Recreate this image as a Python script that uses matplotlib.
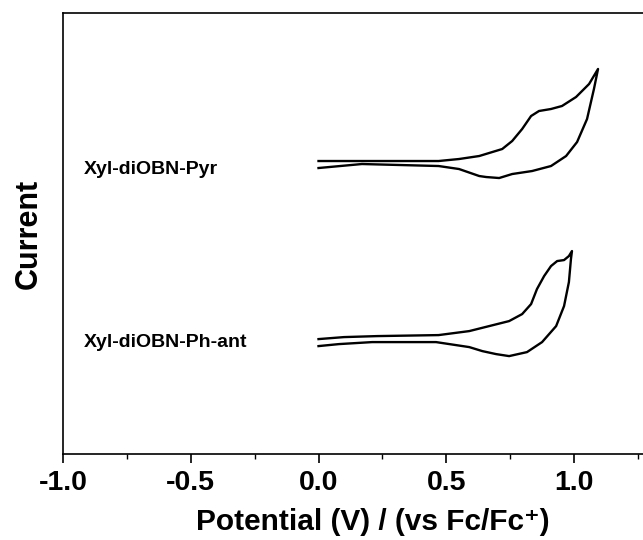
import numpy as np
import matplotlib
matplotlib.use("Agg")
import matplotlib.pyplot as plt
from matplotlib.ticker import MultipleLocator

plt.rcParams['font.family'] = ['Liberation Sans', 'DejaVu Sans']
plt.rcParams['font.weight'] = 'bold'

# CV traces (potential in V vs Fc/Fc+, current in arbitrary units)
pyr_v = [0.00, 0.17, 0.47, 0.55, 0.629, 0.719, 0.758, 0.797, 0.832, 0.863, 0.910, 0.953,
         1.008, 1.059, 1.094,
         1.078, 1.051, 1.012, 0.969, 0.910, 0.836, 0.758, 0.707, 0.656, 0.629, 0.55,
         0.47, 0.17, 0.00]
pyr_i = [293, 293, 293, 295, 298, 305, 313, 325, 338, 343, 345, 348,
         357, 370, 385,
         365, 335, 312, 298, 288, 283, 280, 276, 277, 278, 285,
         288, 290, 286]

phant_v = [0.00, 0.10, 0.23, 0.47, 0.590, 0.668, 0.746, 0.797, 0.832, 0.855, 0.883, 0.910,
           0.934, 0.961, 0.980, 0.992,
           0.988, 0.980, 0.961, 0.930, 0.875, 0.816, 0.746, 0.695, 0.641, 0.590, 0.46,
           0.21, 0.08, 0.00]
phant_i = [115, 117, 118, 119, 123, 128, 133, 140, 150, 165, 178, 188,
           193, 194, 198, 203,
           195, 172, 148, 128, 112, 102, 98, 100, 103, 107, 112,
           112, 110, 108]

labels = ['Xyl-diOBN-Pyr', 'Xyl-diOBN-Ph-ant']
label_y = [285, 112]

fig = plt.figure(figsize=(6.43, 5.40), dpi=100)
ax = fig.add_axes([0.098, 0.159, 0.902, 0.817])

ax.plot(pyr_v, pyr_i, color='black', linewidth=1.7, solid_joinstyle='round')
ax.plot(phant_v, phant_i, color='black', linewidth=1.7, solid_joinstyle='round')

for lab, y in zip(labels, label_y):
    ax.text(-0.92, y, lab, fontsize=14, fontweight='bold', va='center', ha='left')

ax.set_xlim(-1.0, 1.27)
ax.set_ylim(0, 441)
ax.xaxis.set_minor_locator(MultipleLocator(0.25))
ax.set_xticks([-1.0, -0.5, 0.0, 0.5, 1.0])
ax.set_xticklabels(['-1.0', '-0.5', '0.0', '0.5', '1.0'])
ax.set_yticks([])
ax.tick_params(axis='x', which='major', direction='out', length=6.5, width=1.2,
               labelsize=20.5, pad=5)
ax.tick_params(axis='x', which='minor', direction='out', length=3.5, width=1.0)
for lab in ax.get_xticklabels():
    lab.set_fontweight('bold')

ax.spines['right'].set_visible(False)
for s in ['top', 'left', 'bottom']:
    ax.spines[s].set_linewidth(1.2)

ax.set_xlabel('Potential (V) / (vs Fc/Fc\u207a)', fontsize=21.5, fontweight='bold')
ax.xaxis.set_label_coords(0.534, -0.122)
ax.set_ylabel('Current', fontsize=22, fontweight='bold', labelpad=14)

fig.savefig('out.png', dpi=100)
